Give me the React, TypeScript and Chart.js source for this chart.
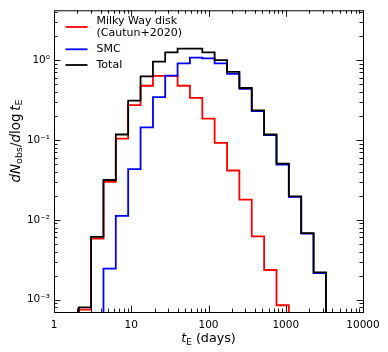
import { useEffect, useRef } from 'react';
import { Chart, registerables } from 'chart.js';

Chart.register(...registerables);

// ---- data ----
const binEdges = [2.09, 3.02, 4.37, 6.31, 9.12, 13.2, 19.1, 27.5, 39.8, 57.5, 83.2, 120, 174, 251, 363, 525, 759, 1096, 1585, 2291, 3311];
// Milky Way disk (Cautun+2020): bins 1..17
const mwDiskValues = [7.5e-4, 5.8e-3, 0.0298, 0.104, 0.272, 0.477, 0.634, 0.634, 0.477, 0.336, 0.185, 0.092, 0.0414, 0.0179, 0.0062, 0.00235, 8.5e-4];
const mwDiskFirstBin = 0;
// SMC: bins 3..20
const smcValues = [0.00245, 0.0112, 0.043, 0.144, 0.343, 0.64, 0.91, 1.07, 1.05, 0.91, 0.67, 0.435, 0.23, 0.115, 0.049, 0.0193, 0.0067, 0.00215];
const smcFirstBin = 2;
// Total: bins 1..20
const totalValues = [8.0e-4, 6.1e-3, 0.0315, 0.117, 0.31, 0.624, 0.955, 1.25, 1.39, 1.39, 1.25, 1.0, 0.71, 0.447, 0.235, 0.117, 0.0506, 0.0196, 0.0068, 0.0022];
const totalFirstBin = 0;

const seriesLabels = [['Milky Way disk', '(Cautun+2020)'], ['SMC'], ['Total']];
const seriesColors = ['#ff0000', '#0000ff', '#000000'];

const xTickValues = [1, 10, 100, 1000, 10000];
const xTickLabels = ['1', '10', '100', '1000', '10000'];
const yTickValues = [1e-3, 1e-2, 1e-1, 1];
const yTickLabels = ['10\u207B\u00B3', '10\u207B\u00B2', '10\u207B\u00B9', '10\u2070'];

const xMin = 1, xMax = 10000;
const yMin = 7e-4, yMax = 4.2;

// ---- layout ----
const W = 388, H = 352;
const AREA = { left: 54, top: 6, right: 363, bottom: 312 };
const FAMILY = '"DejaVu Sans", sans-serif';
const FLOOR = 1e-7;

function stepPoints(values: number[], first: number) {
  const n = values.length;
  const pts: { x: number; y: number }[] = [];
  pts.push({ x: binEdges[first], y: FLOOR });
  values.forEach((v, i) => pts.push({ x: binEdges[first + i], y: v }));
  pts.push({ x: binEdges[first + n], y: values[n - 1] });
  pts.push({ x: binEdges[first + n], y: FLOOR });
  return pts;
}

type Piece = { t: string; font: string; dy?: number };

function drawPieces(ctx: CanvasRenderingContext2D, pieces: Piece[], cx: number, baseY: number) {
  let total = 0;
  const widths = pieces.map((p) => {
    ctx.font = p.font;
    const w = ctx.measureText(p.t).width;
    total += w;
    return w;
  });
  let x = cx - total / 2;
  ctx.textAlign = 'left';
  ctx.textBaseline = 'alphabetic';
  pieces.forEach((p, i) => {
    ctx.font = p.font;
    ctx.fillText(p.t, x, baseY + (p.dy || 0));
    x += widths[i];
  });
}

const decorPlugin = {
  id: 'decor',
  afterDraw(chart: any) {
    const { ctx, chartArea: a } = chart;
    const xs = chart.scales.x;
    const ys = chart.scales.y;
    ctx.save();
    ctx.strokeStyle = '#000';
    ctx.fillStyle = '#000';

    // ticks (inward, all four sides)
    ctx.lineWidth = 0.9;
    const major = 6.5, minor = 3.5;
    const vTick = (px: number, len: number) => {
      ctx.beginPath();
      ctx.moveTo(px, a.bottom); ctx.lineTo(px, a.bottom - len);
      ctx.moveTo(px, a.top); ctx.lineTo(px, a.top + len);
      ctx.stroke();
    };
    const hTick = (py: number, len: number) => {
      ctx.beginPath();
      ctx.moveTo(a.left, py); ctx.lineTo(a.left + len, py);
      ctx.moveTo(a.right, py); ctx.lineTo(a.right - len, py);
      ctx.stroke();
    };
    for (let d = Math.floor(Math.log10(xMin)); d <= Math.ceil(Math.log10(xMax)); d++) {
      for (let m = 1; m <= 9; m++) {
        const v = m * Math.pow(10, d);
        if (v < xMin * 0.999 || v > xMax * 1.001) continue;
        const px = Math.round(xs.getPixelForValue(v)) + 0.5;
        vTick(px, m === 1 ? major : minor);
      }
    }
    for (let d = Math.floor(Math.log10(yMin)); d <= Math.ceil(Math.log10(yMax)); d++) {
      for (let m = 1; m <= 9; m++) {
        const v = m * Math.pow(10, d);
        if (v < yMin * 0.999 || v > yMax * 1.001) continue;
        const py = Math.round(ys.getPixelForValue(v)) + 0.5;
        hTick(py, m === 1 ? major : minor);
      }
    }

    // frame
    ctx.lineWidth = 1;
    ctx.strokeRect(a.left + 0.5, a.top + 0.5, a.right - a.left, a.bottom - a.top);

    // x title
    drawPieces(ctx, [
      { t: 't', font: `italic 12.7px ${FAMILY}` },
      { t: 'E', font: `9px ${FAMILY}`, dy: 2.5 },
      { t: ' (days)', font: `12.7px ${FAMILY}` },
    ], (a.left + a.right) / 2, 342);

    // y title (rotated)
    ctx.save();
    ctx.translate(19.5, 141);
    ctx.rotate(-Math.PI / 2);
    drawPieces(ctx, [
      { t: 'd', font: `italic 13.5px ${FAMILY}` },
      { t: 'N', font: `italic 13.5px ${FAMILY}` },
      { t: 'obs', font: `9.5px ${FAMILY}`, dy: 2.7 },
      { t: '/', font: `13.5px ${FAMILY}` },
      { t: 'd', font: `italic 13.5px ${FAMILY}` },
      { t: 'log\u2009', font: `13.5px ${FAMILY}` },
      { t: 't', font: `italic 13.5px ${FAMILY}` },
      { t: 'E', font: `9.5px ${FAMILY}`, dy: 2.7 },
    ], 0, 0);
    ctx.restore();

    // legend
    const rows = [27, 49.3, 65];
    ctx.font = `11px ${FAMILY}`;
    ctx.textAlign = 'left';
    ctx.textBaseline = 'middle';
    seriesLabels.forEach((lines, i) => {
      const cy = rows[i];
      ctx.strokeStyle = seriesColors[i];
      ctx.lineWidth = 1.8;
      ctx.beginPath();
      ctx.moveTo(65.5, cy);
      ctx.lineTo(87.5, cy);
      ctx.stroke();
      ctx.fillStyle = '#000';
      const lh = 12;
      const y0 = cy - ((lines.length - 1) * lh) / 2;
      lines.forEach((ln, j) => ctx.fillText(ln, 96.5, y0 + j * lh));
    });
    ctx.restore();
  },
};

export default function App() {
  const ref = useRef<HTMLCanvasElement>(null);
  useEffect(() => {
    document.body.style.margin = '0';
    const canvas = ref.current;
    if (!canvas) return;
    const mk = (values: number[], first: number, idx: number, order: number) => ({
      label: seriesLabels[idx].join(' '),
      data: stepPoints(values, first),
      borderColor: seriesColors[idx],
      backgroundColor: seriesColors[idx],
      borderWidth: 1.8,
      pointRadius: 0,
      pointHoverRadius: 0,
      stepped: true,
      fill: false,
      tension: 0,
      borderJoinStyle: 'miter',
      borderCapStyle: 'butt',
      order,
    });
    const chart = new Chart(canvas, {
      type: 'line',
      data: {
        datasets: [
          mk(mwDiskValues, mwDiskFirstBin, 0, 2),
          mk(smcValues, smcFirstBin, 1, 1),
          mk(totalValues, totalFirstBin, 2, 0),
        ] as any,
      },
      options: {
        responsive: false,
        animation: false,
        devicePixelRatio: 1,
        events: [],
        layout: { padding: { left: 0, top: AREA.top, right: W - AREA.right, bottom: 0 } },
        plugins: { legend: { display: false }, tooltip: { enabled: false } },
        scales: {
          x: {
            type: 'logarithmic',
            min: xMin,
            max: xMax,
            grid: { display: false, drawTicks: false },
            border: { display: false },
            afterBuildTicks: (s: any) => { s.ticks = xTickValues.map((v) => ({ value: v })); },
            afterFit: (s: any) => { s.height = H - AREA.bottom; },
            ticks: {
              autoSkip: false,
              maxRotation: 0,
              padding: 7,
              color: '#000',
              font: { family: FAMILY, size: 10.5 },
              callback: (_v: any, i: number) => xTickLabels[i],
            },
          },
          y: {
            type: 'logarithmic',
            min: yMin,
            max: yMax,
            grid: { display: false, drawTicks: false },
            border: { display: false },
            afterBuildTicks: (s: any) => { s.ticks = yTickValues.map((v) => ({ value: v })); },
            afterFit: (s: any) => { s.width = AREA.left; },
            ticks: {
              autoSkip: false,
              padding: 4,
              color: '#000',
              font: { family: FAMILY, size: 10.5 },
              callback: (_v: any, i: number) => yTickLabels[i],
            },
          },
        },
      } as any,
      plugins: [decorPlugin],
    });
    return () => chart.destroy();
  }, []);
  return (
    <div style={{ position: 'fixed', left: 0, top: 0, width: W, height: H, background: '#fff' }}>
      <canvas ref={ref} width={W} height={H} style={{ display: 'block', width: W, height: H }} />
    </div>
  );
}
